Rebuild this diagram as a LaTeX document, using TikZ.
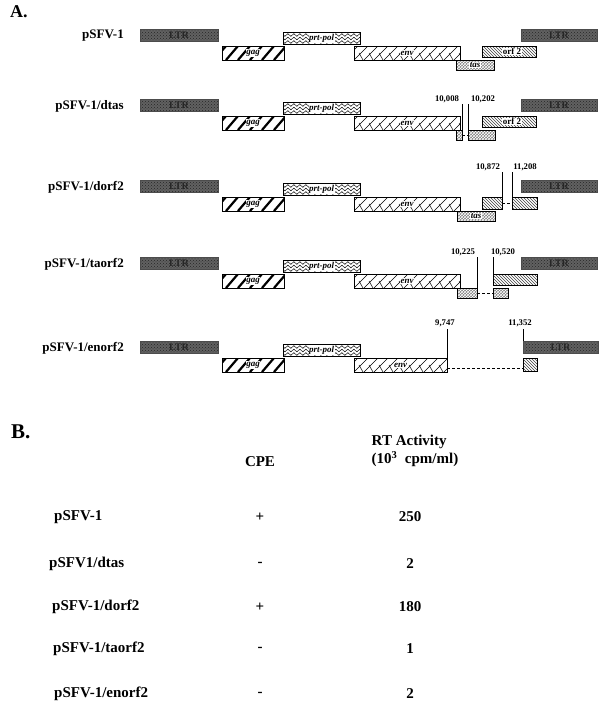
\documentclass[tikz,border=0pt]{standalone}
\usepackage{fontspec}
\setmainfont{Liberation Serif}
\usetikzlibrary{patterns,decorations.pathmorphing}
\tikzset{
  rowlab/.style={font=\bfseries\fontsize{13}{14}\selectfont,anchor=east,inner sep=0},
  bfont/.style={font=\bfseries\fontsize{15}{17}\selectfont,inner sep=0},
  num/.style={font=\bfseries\fontsize{8.7}{9}\selectfont,inner sep=0},
  inlab/.style={font=\bfseries\itshape\fontsize{9}{9}\selectfont,fill=white,inner sep=0.5pt},
  orflab/.style={font=\bfseries\fontsize{9}{9}\selectfont,fill=white,inner sep=0.5pt},
  boxline/.style={draw=black,line width=0.6pt},
  cut/.style={densely dashed,line width=0.8pt},
  tick/.style={line width=0.6pt}
}
\newcommand\ltrbox[3]{%
  \fill[black!62] (#1,0) rectangle (#2,12);
  \fill[pattern=crosshatch dots,pattern color=black!85] (#1,0) rectangle (#2,12);
  \draw[boxline,draw=black!70] (#1,0) rectangle (#2,12);
  \node[font=\bfseries\fontsize{10}{10}\selectfont,text=black!85,inner sep=0] (#3) at ({(#1+#2)/2},6) {LTR};}
\newcommand\gagbox[3]{%
  \begin{scope}\clip (#1,17) rectangle (#2,31);
  \foreach \s in {-20,-8,...,80} \draw[line width=2.2pt] ({#1+\s},31) -- ({#1+\s+12},17);
  \end{scope}
  \draw[boxline] (#1,17) rectangle (#2,31);
  \node[inlab] (#3) at ({(#1+#2)/2},24) {gag};}
\newcommand\prtbox[3]{%
  \fill[white] (#1,3) rectangle (#2,15);
  \begin{scope}\clip (#1,3) rectangle (#2,15);
  \foreach \yy in {6,9.5,13} \draw[line width=0.5pt,decorate,decoration={snake,amplitude=1.4pt,segment length=6pt}] ({#1-3},\yy) -- ({#2+3},\yy);
  \end{scope}
  \draw[boxline] (#1,3) rectangle (#2,15);
  \node[inlab] (#3) at ({(#1+#2)/2},9) {prt-pol};}
\newcommand\envbox[3]{%
  \fill[white] (#1,17) rectangle (#2,31);
  \begin{scope}\clip (#1,17) rectangle (#2,31);
  \foreach \s in {-20,-10,...,120} {\draw[line width=0.5pt] ({#1+\s},31) -- ({#1+\s+14},17);
     \draw[line width=0.5pt] ({#1+\s+5},24) -- ({#1+\s+9},31);}
  \end{scope}
  \draw[boxline] (#1,17) rectangle (#2,31);
  \node[inlab] (#3) at ({(#1+#2)/2},24) {env};}
\newcommand\tasbox[2]{%
  \fill[black!50] (#1,31) rectangle (#2,41);
  \fill[pattern=crosshatch,pattern color=white] (#1,31) rectangle (#2,41);
  \draw[boxline] (#1,31) rectangle (#2,41);}
\newcommand\orfbox[3]{%
  \fill[white] (#1,17) rectangle (#2,#3);
  \fill[pattern=north west lines,pattern color=black!75] (#1,17) rectangle (#2,#3);
  \draw[boxline] (#1,17) rectangle (#2,#3);}
\newcommand\common{%
  \ltrbox{140}{218}{L}
  \gagbox{222}{284}{g}
  \prtbox{283}{360}{p}}
\begin{document}
\begin{tikzpicture}[x=1pt,y=-1pt]
\useasboundingbox (0,0) rectangle (606,715);
\fill[white] (0,0) rectangle (606,715);
\node[font=\bfseries\fontsize{18}{18}\selectfont,anchor=west,inner sep=0] (A) at (10,12) {A.};
% Row 1
\begin{scope}[shift={(0,29)}]
\node[rowlab] (r1) at (124,7) {pSFV-1};
\common
\envbox{354}{460}{e1}
\tasbox{456}{494}
\node[inlab] (t1) at (475,36) {tas};
\orfbox{482}{536}{28}
\node[orflab] (o1) at (512,22.5) {orf 2};
\ltrbox{521}{597}{R1}
\end{scope}
% Row 2
\begin{scope}[shift={(0,99)}]
\node[rowlab] (r2) at (124,7) {pSFV-1/dtas};
\common
\envbox{354}{460}{e2}
\tasbox{456}{462}
\tasbox{468}{495}
\coordinate (d2a) at (462,36); \coordinate (d2b) at (468,36);
\draw[cut] (d2a) -- (d2b);
\orfbox{482}{536}{28}
\node[orflab] (o2) at (512,22.5) {orf 2};
\node[num] (n2a) at (447,0) {10,008};
\node[num] (n2b) at (483,0) {10,202};
\coordinate (c2a) at (462,31); \coordinate (c2b) at (468,31);
\draw[tick] (462,5) -- (c2a); \draw[tick] (468,5) -- (c2b);
\ltrbox{521}{597}{R2}
\end{scope}
% Row 3
\begin{scope}[shift={(0,180)}]
\node[rowlab] (r3) at (124,7) {pSFV-1/dorf2};
\common
\envbox{354}{460}{e3}
\tasbox{457}{495}
\node[inlab] (t3) at (476,36) {tas};
\orfbox{482}{502}{29}
\orfbox{512}{537}{29}
\coordinate (d3a) at (502,23); \coordinate (d3b) at (512,23);
\draw[cut] (d3a) -- (d3b);
\node[num] (n3a) at (488,-13) {10,872};
\node[num] (n3b) at (525,-13) {11,208};
\draw[tick] (502,-8) -- (502,29); \draw[tick] (512,-8) -- (512,17);
\ltrbox{521}{597}{R3}
\end{scope}
% Row 4
\begin{scope}[shift={(0,257)}]
\node[rowlab] (r4) at (124,7) {pSFV-1/taorf2};
\common
\envbox{354}{460}{e4}
\tasbox{457}{477}
\tasbox{493}{508}
\coordinate (d4a) at (477,36); \coordinate (d4b) at (493,36);
\draw[cut] (d4a) -- (d4b);
\orfbox{493}{537}{28}
\node[num] (n4a) at (463,-5) {10,225};
\node[num] (n4b) at (503,-5) {10,520};
\draw[tick] (477,0) -- (477,36); \draw[tick] (493,0) -- (493,17);
\ltrbox{521}{597}{R4}
\end{scope}
% Row 5
\begin{scope}[shift={(0,341)}]
\node[rowlab] (r5) at (124,7) {pSFV-1/enorf2};
\common
\envbox{354}{447}{e5}
\orfbox{523}{537}{30}
\coordinate (d5a) at (447,27); \coordinate (d5b) at (523,27);
\draw[cut] (d5a) -- (d5b);
\node[num] (n5a) at (445,-18) {9,747};
\node[num] (n5b) at (520,-18) {11,352};
\draw[tick] (447,-12) -- (447,17); \draw[tick] (523,-12) -- (523,0);
\ltrbox{523}{598}{R5}
\end{scope}
% Part B
\node[font=\bfseries\fontsize{21}{21}\selectfont,anchor=west,inner sep=0] (B) at (11,432) {B.};
\node[bfont] (cpe) at (260,462) {CPE};
\node[bfont,align=left] (rt) at (415,451) {RT Activity\\[1pt](10$^{\mathbf{3}}$\ \ cpm/ml)};
\foreach \n/\y/\xl/\lab/\c/\v in {1/517/54/pSFV-1/+/250, 2/564/49/pSFV1\slash dtas/-/2, 3/607/52/pSFV-1\slash dorf2/+/180, 4/649/53/pSFV-1\slash taorf2/-/1, 5/694/54/pSFV-1\slash enorf2/-/2}{
  \node[bfont,anchor=west] (b\n) at (\xl,\y) {\lab};
  \node[bfont] (c\n) at (260,\y) {\c};
  \node[bfont] (v\n) at (410,\y) {\v};
}
\end{tikzpicture}
\end{document}
